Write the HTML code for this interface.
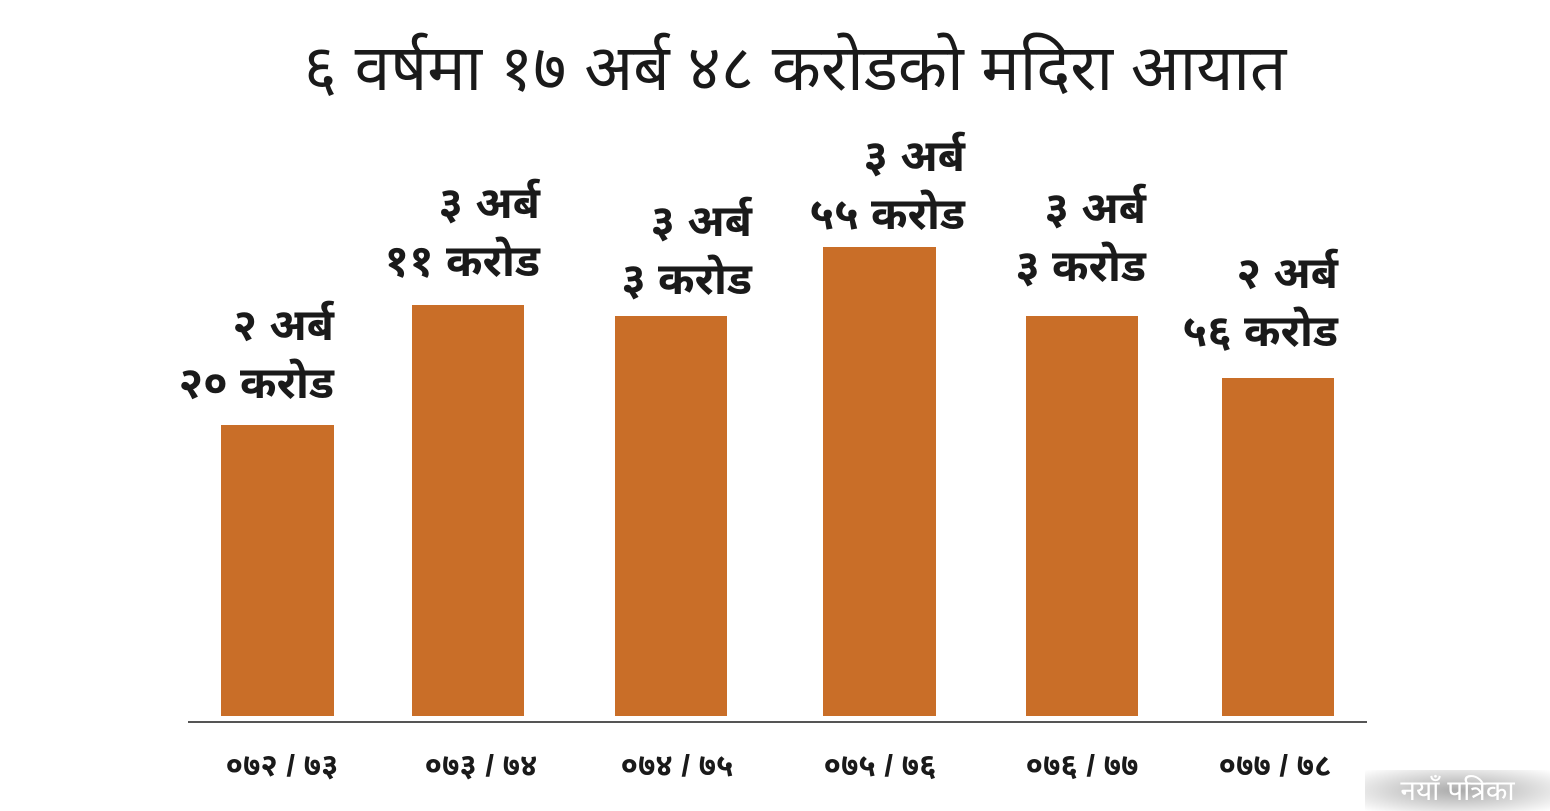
<!DOCTYPE html>
<html><head><meta charset="utf-8"><style>
body{margin:0;width:1550px;height:811px;background:#fff;position:relative;overflow:hidden;font-family:"Liberation Sans","Noto Sans Devanagari","Lohit Devanagari",sans-serif;color:#1a1a1a}
.t{position:absolute;left:0;width:1590px;text-align:center;top:30px;font-size:64px;line-height:76px}
.bar{position:absolute;background:#c96e28;bottom:95px}
.lab{position:absolute;text-align:right;font-weight:bold;font-size:44px;line-height:58px;white-space:nowrap}
.x{position:absolute;top:748px;width:240px;text-align:center;font-size:31px;font-weight:bold;white-space:nowrap}
.ax{position:absolute;left:188px;width:1179px;top:721px;height:2px;background:#555}
.wm{position:absolute;left:1365px;top:770px;width:185px;height:41px;background:radial-gradient(ellipse at center,#aaa 0%,#ddd 60%,#fff 100%);color:#fff;font-size:28px;text-align:center;line-height:41px}
</style></head><body>
<div class="t">६ वर्षमा १७ अर्ब ४८ करोडको मदिरा आयात</div>
<div class="bar" style="left:221px;width:113px;height:291px"></div>
<div class="bar" style="left:412px;width:112px;height:411px"></div>
<div class="bar" style="left:615px;width:112px;height:400px"></div>
<div class="bar" style="left:823px;width:113px;height:469px"></div>
<div class="bar" style="left:1026px;width:112px;height:400px"></div>
<div class="bar" style="left:1222px;width:112px;height:338px"></div>
<div class="ax"></div>
<div class="lab" style="right:1216px;top:297px">२ अर्ब<br>२० करोड</div>
<div class="lab" style="right:1010px;top:175px">३ अर्ब<br>११ करोड</div>
<div class="lab" style="right:798px;top:193px">३ अर्ब<br>३ करोड</div>
<div class="lab" style="right:585px;top:128px">३ अर्ब<br>५५ करोड</div>
<div class="lab" style="right:404px;top:180px">३ अर्ब<br>३ करोड</div>
<div class="lab" style="right:212px;top:245px">२ अर्ब<br>५६ करोड</div>
<div class="x" style="left:162px">०७२ / ७३</div>
<div class="x" style="left:361px">०७३ / ७४</div>
<div class="x" style="left:557px">०७४ / ७५</div>
<div class="x" style="left:760px">०७५ / ७६</div>
<div class="x" style="left:962px">०७६ / ७७</div>
<div class="x" style="left:1155px">०७७ / ७८</div>
<div class="wm">नयाँ पत्रिका</div>
</body></html>
